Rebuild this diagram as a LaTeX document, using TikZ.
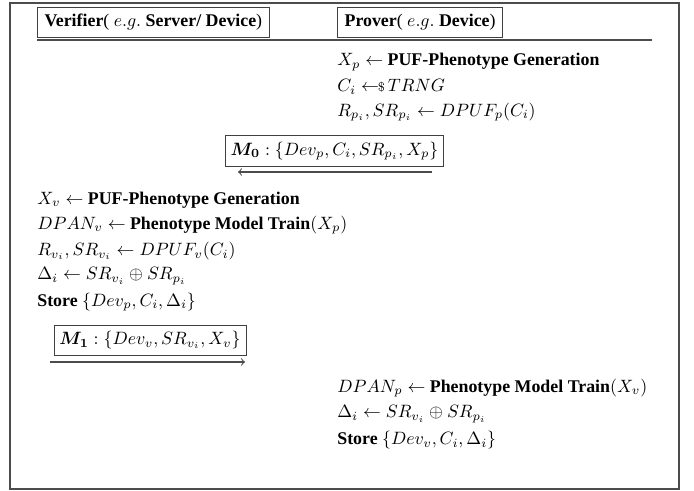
\documentclass[tikz,border=0pt]{standalone}
\usepackage{amsmath,amssymb}
\usepackage{fontspec}
\setmainfont{Liberation Serif}
\usetikzlibrary{arrows}
\tikzset{
  steptext/.style={anchor=west, inner sep=0pt},
  rolebox/.style={draw=black!75, line width=0.5pt, anchor=west, inner xsep=4pt, minimum height=16.8pt},
  msgbox/.style={draw=black!75, line width=0.5pt, inner xsep=3pt, minimum height=16.8pt},
  msgarrow/.style={draw=black!70, line width=0.6pt, -to}
}
\begin{document}
\begin{tikzpicture}[x=0.56pt,y=-0.56pt]
\useasboundingbox (0,0) rectangle (694,491);
\draw[black!70, line width=0.8pt] (10,3) rectangle (679,489);
% header
\node[rolebox] (verifier) at (37,22) {\textbf{Verifier}( $e.g.$ \textbf{Server/ Device})};
\node[rolebox] (prover) at (337,22) {\textbf{Prover}( $e.g.$ \textbf{Device})};
\coordinate (headl) at (37,40);
\coordinate (headr) at (652,40);
\draw[black!70, line width=0.6pt] (headl) -- (headr);
% prover, first step
\node[steptext] (pgen) at (337,62) {$X_p \leftarrow$ \textbf{PUF-Phenotype Generation}};
\node[steptext] (pchal) at (337,87) {$C_i \leftarrow\!\!{\scriptstyle\$}\, TRNG$};
\node[steptext] (presp) at (337,112) {$R_{p_i}, SR_{p_i} \leftarrow DPUF_p(C_i)$};
\node[msgbox] (mzero) at (334.5,151) {$\boldsymbol{M_0} : \{Dev_p, C_i, SR_{p_i}, X_p\}$};
\coordinate (mzerofrom) at (432,172);
\coordinate (mzeroto) at (238,172);
\draw[msgarrow] (mzerofrom) -- (mzeroto);
% verifier
\node[steptext] (vgen) at (37,200) {$X_v \leftarrow$ \textbf{PUF-Phenotype Generation}};
\node[steptext] (vtrain) at (37,225) {$DPAN_v \leftarrow$ \textbf{Phenotype Model Train}$(X_p)$};
\node[steptext] (vresp) at (37,251) {$R_{v_i}, SR_{v_i} \leftarrow DPUF_v(C_i)$};
\node[steptext] (vdelta) at (37,276) {$\Delta_i \leftarrow SR_{v_i} \oplus SR_{p_i}$};
\node[steptext] (vstore) at (37,302) {\textbf{Store} $\{Dev_p, C_i, \Delta_i\}$};
\node[msgbox] (mone) at (150,340) {$\boldsymbol{M_1} : \{Dev_v, SR_{v_i}, X_v\}$};
\coordinate (monefrom) at (50,362);
\coordinate (moneto) at (245,362);
\draw[msgarrow] (monefrom) -- (moneto);
% prover, second step
\node[steptext] (ptrain) at (337,388) {$DPAN_p \leftarrow$ \textbf{Phenotype Model Train}$(X_v)$};
\node[steptext] (pdelta) at (337,414) {$\Delta_i \leftarrow SR_{v_i} \oplus SR_{p_i}$};
\node[steptext] (pstore) at (337,440) {\textbf{Store} $\{Dev_v, C_i, \Delta_i\}$};
\end{tikzpicture}
\end{document}
